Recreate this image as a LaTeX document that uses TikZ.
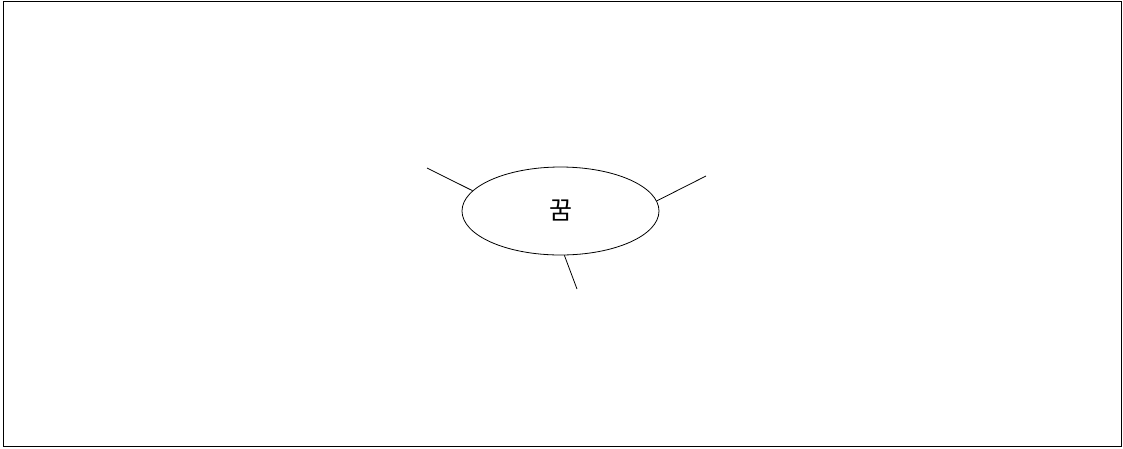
\documentclass[tikz,border=0pt]{standalone}
\usepackage{fontspec}
\newfontfamily\kofont{Noto Sans CJK KR}
\usepackage{tikz}
\usetikzlibrary{shapes.geometric}

\begin{document}
\begin{tikzpicture}[x=1pt,y=-1pt,line width=0.8pt]
  \useasboundingbox (0,0) rectangle (1123,448);
  \draw (3,1) rectangle (1121,446);
  \node[ellipse,draw,inner sep=0pt,minimum width=197pt,minimum height=88pt,font=\kofont\fontsize{25}{25}\selectfont] (dream) at (560.5,211) {꿈};
  \coordinate (leftend) at (427,168);
  \coordinate (rightend) at (706,176);
  \coordinate (downend) at (577,289);
  \draw (dream.167) -- (leftend);
  \draw (dream.6) -- (rightend);
  \draw (dream.275) -- (downend);
\end{tikzpicture}
\end{document}
